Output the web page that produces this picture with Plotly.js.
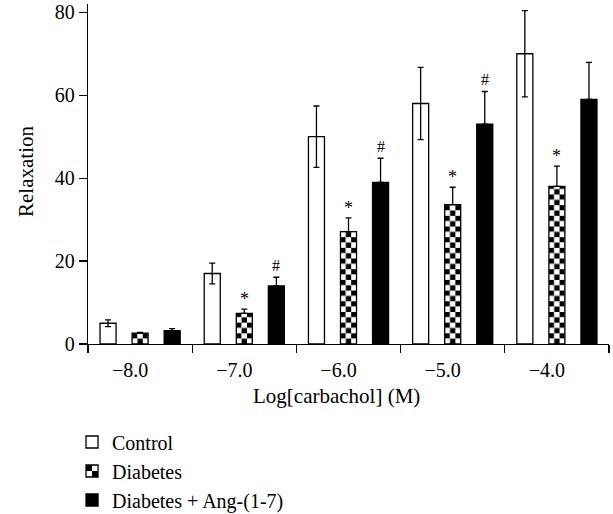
<!DOCTYPE html>
<html>
<head>
<meta charset="utf-8">
<script src="https://cdn.plot.ly/plotly-3.0.1.min.js"></script>
<style>html,body{margin:0;padding:0;background:#fff;}#chart{width:613px;height:514px;}</style>
</head>
<body>
<div id="chart"></div>
<script>
// ---- data ----
const categories = ['\u22128.0', '\u22127.0', '\u22126.0', '\u22125.0', '\u22124.0'];
const seriesNames = ['Control', 'Diabetes', 'Diabetes + Ang-(1-7)'];
const control = [5.0, 17.0, 50.0, 58.0, 70.0];
const controlErr = [0.8, 2.5, 7.4, 8.7, 10.4];
const diabetes = [2.6, 7.4, 27.1, 33.6, 38.0];
const diabetesErr = [0.2, 1.0, 3.3, 4.2, 4.9];
const ang = [3.2, 14.0, 39.0, 53.0, 59.0];
const angErr = [0.5, 2.1, 5.8, 7.9, 8.9];
const diabetesMarks = ['', '*', '*', '*', '*'];
const angMarks = ['', '#', '#', '#', ''];
const yTicks = [0, 20, 40, 60, 80];
const xTitle = 'Log[carbachol] (M)';
const yTitle = 'Relaxation';

// ---- layout constants ----
const W = 613, H = 514;
const M = {l: 88, r: 4, t: 4, b: 170, autoexpand: false};
const BARGAP = 0.077, BARGROUPGAP = 0.5;
const FONT = "'Liberation Serif', 'Times New Roman', serif";
const zeros = control.map(() => 0);

const lineW = 1.3;
const errStyle = {color: '#000', thickness: 1.3, width: 3};

const traces = [
  {type: 'bar', name: seriesNames[0], x: categories, y: control,
   marker: {color: '#ffffff', line: {color: '#000', width: lineW}},
   error_y: Object.assign({type: 'data', array: controlErr, symmetric: true}, errStyle)},
  {type: 'bar', name: seriesNames[1], x: categories, y: diabetes,
   marker: {color: '#ffffff', line: {color: '#000', width: lineW}},
   error_y: Object.assign({type: 'data', array: diabetesErr, arrayminus: zeros, symmetric: false}, errStyle)},
  {type: 'bar', name: seriesNames[2], x: categories, y: ang,
   marker: {color: '#000000', line: {color: '#000', width: lineW}},
   error_y: Object.assign({type: 'data', array: angErr, arrayminus: zeros, symmetric: false}, errStyle)}
];

// offset of bars within a group (px)
const plotW = W - M.l - M.r;
const plotH = H - M.t - M.b;
const slotPx = (plotW / categories.length) * (1 - BARGAP) / 3;

const annotations = [];
categories.forEach((c, i) => {
  if (diabetesMarks[i]) annotations.push({x: c, y: diabetes[i] + diabetesErr[i], xref: 'x', yref: 'y',
    text: diabetesMarks[i], showarrow: false, xshift: 0, yanchor: 'bottom', yshift: -2,
    font: {family: FONT, size: 18, color: '#000'}});
  if (angMarks[i]) annotations.push({x: c, y: ang[i] + angErr[i], xref: 'x', yref: 'y',
    text: angMarks[i], showarrow: false, xshift: slotPx, yanchor: 'bottom', yshift: 1,
    font: {family: FONT, size: 16, color: '#000'}});
});
// axis titles
annotations.push({xref: 'paper', yref: 'paper', x: (336 - M.l) / plotW, y: (M.t + plotH - 396) / plotH,
  text: xTitle, showarrow: false, xanchor: 'center', yanchor: 'middle',
  font: {family: FONT, size: 21, color: '#000'}});
annotations.push({xref: 'paper', yref: 'paper', x: (26 - M.l) / plotW, y: 0.5, yshift: 2,
  text: yTitle, showarrow: false, textangle: -90, xanchor: 'center', yanchor: 'middle',
  font: {family: FONT, size: 21, color: '#000'}});

const layout = {
  width: W, height: H,
  margin: M,
  paper_bgcolor: '#fff', plot_bgcolor: '#fff',
  font: {family: FONT, size: 20, color: '#000'},
  barmode: 'group', bargap: BARGAP, bargroupgap: BARGROUPGAP,
  showlegend: true,
  legend: {xref: 'container', yref: 'container', x: 0.1175, y: 0.178, xanchor: 'left', yanchor: 'top',
    orientation: 'v', font: {family: FONT, size: 20, color: '#000'}, bgcolor: 'rgba(0,0,0,0)', itemwidth: 30},
  xaxis: {type: 'category', showline: true, linecolor: '#000', linewidth: lineW, automargin: false,
    ticks: 'outside', tickson: 'boundaries', ticklen: 8, tickwidth: lineW, tickcolor: '#000',
    showgrid: false, zeroline: false, ticklabelshift: -10, ticklabelstandoff: 8,
    tickfont: {family: FONT, size: 20, color: '#000'}},
  yaxis: {range: [0, 82], tickvals: yTicks, ticktext: yTicks.map(String), automargin: false,
    showline: true, linecolor: '#000', linewidth: lineW,
    ticks: 'outside', ticklen: 8, tickwidth: lineW, tickcolor: '#000',
    showgrid: false, zeroline: false,
    tickfont: {family: FONT, size: 20, color: '#000'}},
  annotations: annotations
};

function addChecker(svgDefs, id, x, y, s) {
  const NS = 'http://www.w3.org/2000/svg';
  const p = document.createElementNS(NS, 'pattern');
  p.setAttribute('id', id);
  p.setAttribute('patternUnits', 'userSpaceOnUse');
  p.setAttribute('x', x); p.setAttribute('y', y);
  p.setAttribute('width', 2 * s); p.setAttribute('height', 2 * s);
  const mk = (rx, ry, fill) => {
    const r = document.createElementNS(NS, 'rect');
    r.setAttribute('x', rx); r.setAttribute('y', ry);
    r.setAttribute('width', s); r.setAttribute('height', s);
    r.setAttribute('fill', fill);
    p.appendChild(r);
  };
  mk(0, 0, '#000'); mk(s, 0, '#fff'); mk(0, s, '#fff'); mk(s, s, '#000');
  svgDefs.appendChild(p);
}

Plotly.newPlot('chart', traces, layout, {displayModeBar: false, staticPlot: true}).then(gd => {
  const defs = gd.querySelector('.main-svg defs');
  const barTraces = gd.querySelectorAll('.barlayer .trace');
  if (barTraces[1]) {
    barTraces[1].querySelectorAll('.point path').forEach((path, i) => {
      const bb = path.getBBox();
      const s = bb.width / 3;
      addChecker(defs, 'chkbar' + i, bb.x, bb.y + bb.height, s);
      path.style.fill = 'url(#chkbar' + i + ')';
    });
  }
  const legTraces = gd.querySelectorAll('.legend .traces');
  if (legTraces[1]) {
    const lp = legTraces[1].querySelector('.legendpoints path');
    if (lp) {
      const bb = lp.getBBox();
      addChecker(defs, 'chkleg', bb.x, bb.y, bb.width / 2);
      lp.style.fill = 'url(#chkleg)';
    }
  }
});
</script>
</body>
</html>
